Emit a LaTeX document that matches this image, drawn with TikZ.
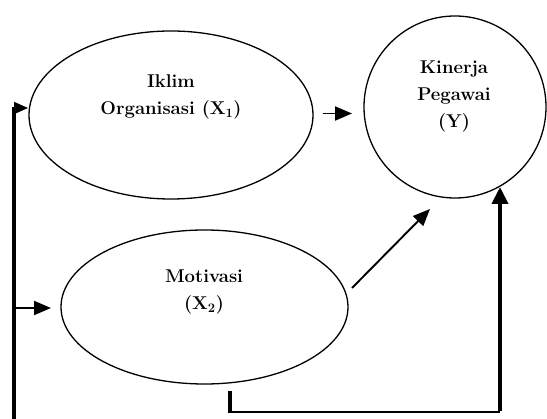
\documentclass[tikz,border=0pt]{standalone}
\usepackage{fontspec}
\usetikzlibrary{shapes.geometric,arrows.meta}
\begin{document}
\begin{tikzpicture}[x=1pt,y=-1pt,
  oval/.style={draw,ellipse,line width=1.3pt,inner sep=0pt},
  lbl/.style={align=center,font=\fontsize{18.5}{27}\selectfont\bfseries},
  thinarrow/.style={line width=1.9pt,-{Triangle[length=17pt,width=14pt]}},
  fatline/.style={line width=4pt},
  fatarrow/.style={line width=4pt,-{Triangle[length=17pt,width=16pt]}}]
\useasboundingbox (0,0) rectangle (547,419);
\node[oval,minimum width=284pt,minimum height=168pt] (x1) at (171,115) {};
\node[oval,minimum width=182pt,minimum height=182pt] (y) at (455,107) {};
\node[oval,minimum width=287pt,minimum height=154pt] (x2) at (204.5,307) {};
\node[lbl] (t1) at (171,97) {Iklim\\Organisasi (X\textsubscript{1})};
\node[lbl] (ty) at (454,96) {Kinerja\\Pegawai\\(Y)};
\node[lbl] (t2) at (204,292) {Motivasi\\(X\textsubscript{2})};
% coordinates
\coordinate (a1) at (323,113.5);
\coordinate (a2) at (352,113.5);
\coordinate (b1) at (352,288);
\coordinate (b2) at (430,209);
\coordinate (lb) at (14,419);
\coordinate (lt) at (14,108);
\coordinate (lf) at (28,108);
\coordinate (lm) at (14,308);
\coordinate (lm2) at (51,308);
\coordinate (s1) at (230,391);
\coordinate (s2) at (230,412);
\coordinate (s3) at (500,412);
\coordinate (s4) at (500,187);
\draw[thinarrow] (a1) -- (a2);
\draw[thinarrow] (b1) -- (b2);
\draw[fatline] (lb) -- (lt);
\draw[line width=1.6pt,-{Triangle[length=14pt,width=12pt]}] ([xshift=-2pt]lt) -- (lf);
\draw[thinarrow] (lm) -- (lm2);
\draw[fatline] (s1) -- (s2);
\draw[line width=2.6pt] ([xshift=-2pt]s2) -- (s3);
\draw[fatarrow] ([yshift=1.3pt]s3) -- (s4);
\end{tikzpicture}
\end{document}
